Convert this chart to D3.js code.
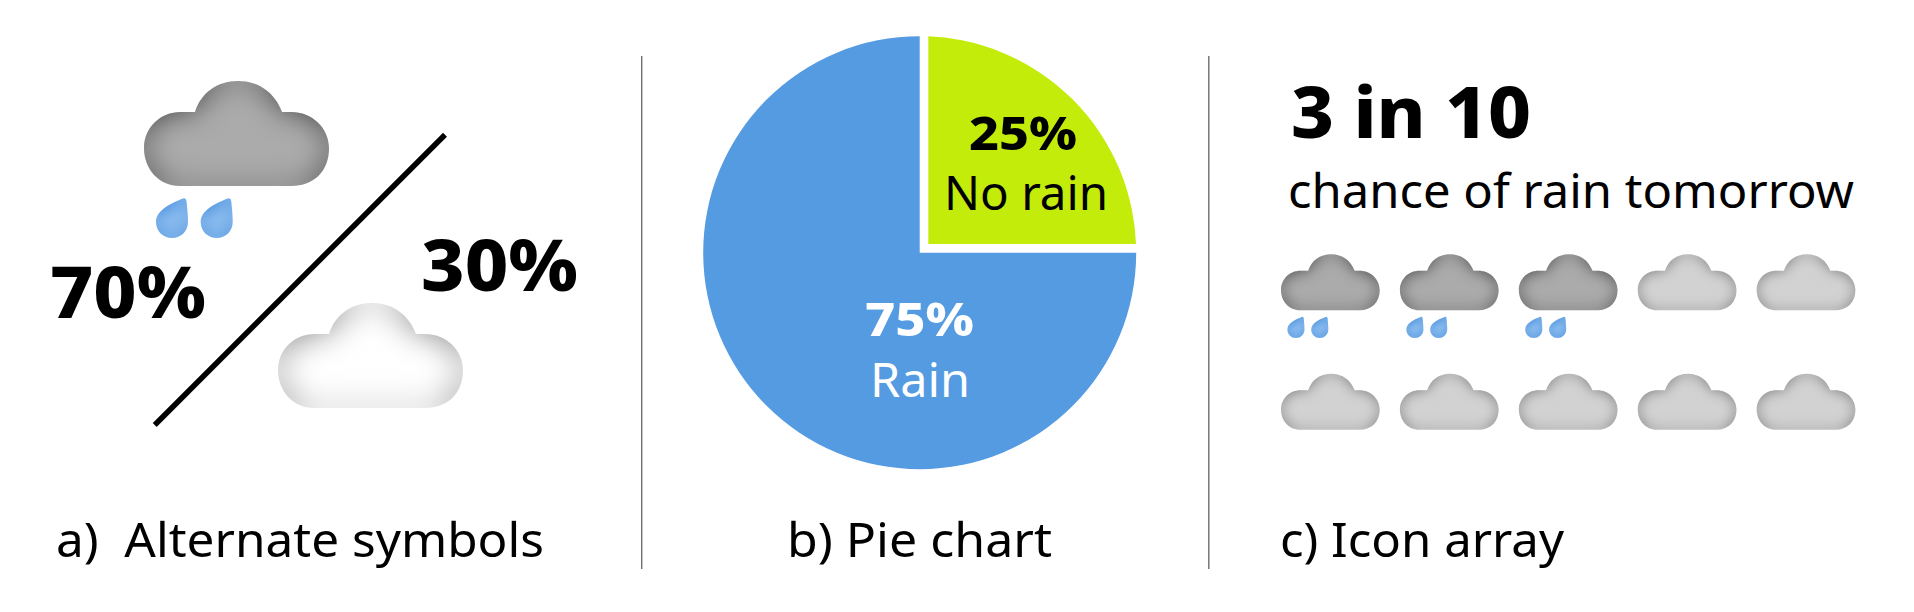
<!DOCTYPE html>
<html>
<head>
<meta charset="utf-8">
<script src="https://cdn.jsdelivr.net/npm/d3@7"></script>
<style>
  html, body { margin: 0; padding: 0; background: #fff; }
  svg { display: block; }
  text { font-family: "Noto Sans", sans-serif; fill: #000; }
</style>
</head>
<body>
<svg id="chart" width="1914" height="612"></svg>
<script>
// values
const symbolValues = ['70%', '30%'];
const pieLabels = ['No rain', 'Rain'];
const pieValues = [25, 75];
const pieColors = ['#c4ec0b', '#549be2'];
const pieTextColors = ['#000', '#fff'];
const iconRain = [1, 1, 1, 0, 0, 0, 0, 0, 0, 0];
const captions = ['a)  Alternate symbols', 'b) Pie chart', 'c) Icon array'];
const arrayTitle = '3 in 10';
const arraySubtitle = 'chance of rain tomorrow';

const W = 1914, H = 612;
const svg = d3.select('#chart');
const defs = svg.append('defs');

// glyphs, in their own icon units (cloud is 185 x 105)
const CLOUD = 'M36,105 C15,105 0,88 0,67 C0,47 16,31 37,31 L51,31 C57,12 73,0 94,0 C115,0 131,12 138,31 '
  + 'L147,31 C168,31 185,47 185,67 C185,90 170,105 147,105 Z';
const DROP = 'M27,0.5 Q30,-0.5 30.5,3 C31,8 32,16 32,24 C32,33 25,40 16,40 C7,40 0,33 0,24 C0,13 13,6 27,0.5 Z';

// inner glow so the cloud edges get darker, following the outline
function innerGlow(id, flood, blur) {
  const f = defs.append('filter').attr('id', id)
    .attr('x', '-5%').attr('y', '-5%').attr('width', '110%').attr('height', '110%')
    .attr('color-interpolation-filters', 'sRGB');
  f.append('feFlood').attr('flood-color', flood).attr('result', 'flood');
  f.append('feComposite').attr('in', 'flood').attr('in2', 'SourceAlpha').attr('operator', 'out').attr('result', 'inv');
  f.append('feGaussianBlur').attr('in', 'inv').attr('stdDeviation', blur).attr('result', 'blur');
  f.append('feComposite').attr('in', 'blur').attr('in2', 'SourceAlpha').attr('operator', 'in').attr('result', 'edge');
  const m = f.append('feMerge');
  m.append('feMergeNode').attr('in', 'SourceGraphic');
  m.append('feMergeNode').attr('in', 'edge');
}
innerGlow('glowDark', '#4c4c4c', 14);
innerGlow('glowWhite', '#8e8e8e', 16);
innerGlow('glowGrey', '#7c7c7c', 12);
innerGlow('glowDrop', '#1f75d2', 8);

const cloudStyle = {
  dark: { fill: '#ababab', filter: 'url(#glowDark)' },
  white: { fill: '#ffffff', filter: 'url(#glowWhite)' },
  grey: { fill: '#d2d2d2', filter: 'url(#glowGrey)' }
};

function drawCloud(x, y, k, style, rain) {
  const g = svg.append('g').attr('transform', `translate(${x},${y}) scale(${k})`);
  g.append('path').attr('d', CLOUD)
    .attr('fill', cloudStyle[style].fill).attr('filter', cloudStyle[style].filter);
  if (rain) {
    g.selectAll('path.drop').data([12, 56.7]).join('path').attr('class', 'drop')
      .attr('d', DROP)
      .attr('transform', d => `translate(${d},117)`)
      .attr('fill', '#8dbdef').attr('filter', 'url(#glowDrop)');
  }
}

function label(txt, x, y, size, weight, width, color) {
  return svg.append('text').attr('x', x).attr('y', y)
    .attr('font-size', size).attr('font-weight', weight)
    .attr('textLength', width).attr('lengthAdjust', 'spacingAndGlyphs')
    .style('fill', color || '#000').style('white-space', 'pre')
    .text(txt);
}

// dividers
svg.selectAll('line.div').data([641.7, 1208.8]).join('line').attr('class', 'div')
  .attr('x1', d => d).attr('x2', d => d).attr('y1', 56).attr('y2', 569)
  .attr('stroke', '#6e6e6e').attr('stroke-width', 1.4);

// a) alternate symbols
drawCloud(144, 81, 1, 'dark', true);
drawCloud(278, 303, 1, 'white', false);
svg.append('line').attr('x1', 154.7).attr('y1', 425).attr('x2', 445).attr('y2', 134.8)
  .attr('stroke', '#000').attr('stroke-width', 5.5);
label(symbolValues[0], 50, 318, 71, 800, 156);
label(symbolValues[1], 421, 291, 71, 800, 157);

// b) pie, the green slice is cut back from the centre to leave the white gap
const pieCx = 919.7, pieCy = 252.7, pieR = 216.5;
const arc = d3.arc().innerRadius(0).outerRadius(pieR);
const pieData = d3.pie().sort(null)(pieValues);
defs.append('clipPath').attr('id', 'gapClip').append('rect')
  .attr('x', 8.6).attr('y', -pieR - 2).attr('width', pieR + 2).attr('height', pieR + 2 - 8.7);
svg.append('g').attr('transform', `translate(${pieCx},${pieCy})`)
  .selectAll('path').data(pieData).join('path')
  .attr('d', arc)
  .attr('fill', (d, i) => pieColors[i])
  .attr('clip-path', (d, i) => i === 0 ? 'url(#gapClip)' : null);
label(pieValues[0] + '%', 969, 150, 47, 800, 108, pieTextColors[0]);
label(pieLabels[0], 944, 210, 47, 400, 164, pieTextColors[0]);
label(pieValues[1] + '%', 865, 336, 47, 800, 109, pieTextColors[1]);
label(pieLabels[1], 870, 396.5, 47, 400, 100, pieTextColors[1]);

// c) icon array
const col = d3.scaleLinear().domain([0, 4]).range([1281, 1756.7]);
const row = d3.scaleLinear().domain([0, 1]).range([254.2, 373.7]);
const iconK = 98.7 / 185;
iconRain.forEach((r, i) => {
  drawCloud(col(i % 5), row(Math.floor(i / 5)), iconK, r ? 'dark' : 'grey', !!r);
});
label(arrayTitle, 1291, 137.5, 72, 800, 240);
label(arraySubtitle, 1288, 208, 47, 400, 566);

// captions
label(captions[0], 56, 556.6, 47, 400, 488);
label(captions[1], 787, 556.6, 47, 400, 265);
label(captions[2], 1280, 556.6, 47, 400, 284);
</script>
</body>
</html>
